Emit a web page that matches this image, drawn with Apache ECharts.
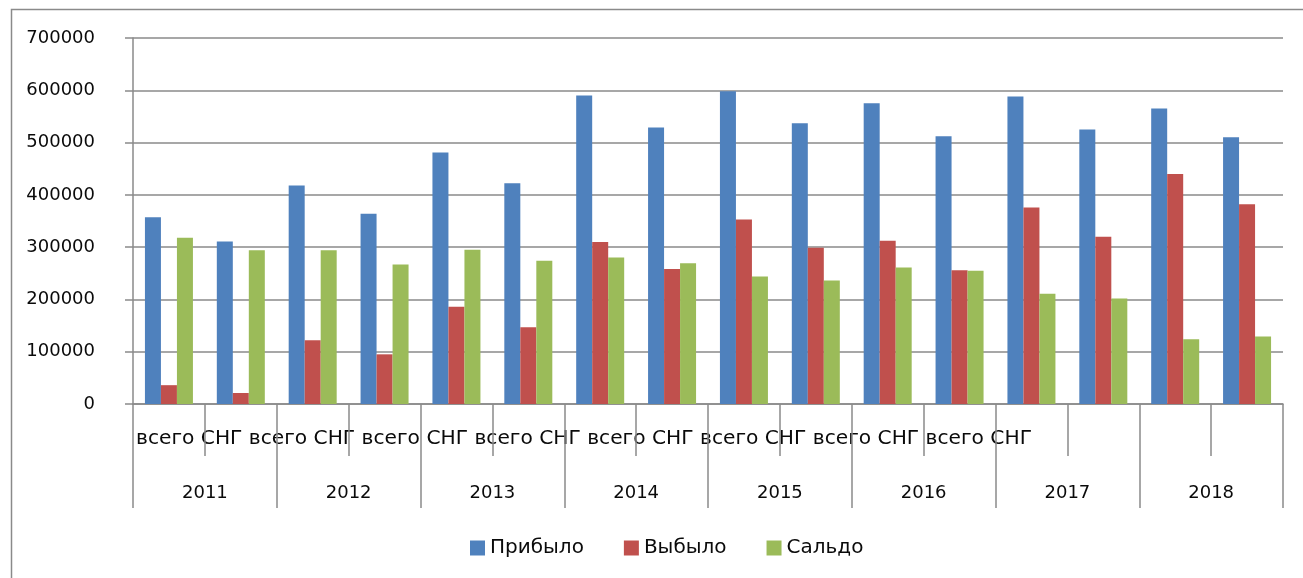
<!DOCTYPE html>
<html>
<head>
<meta charset="utf-8">
<script src="https://cdn.jsdelivr.net/npm/echarts@6/dist/echarts.min.js"></script>
<style>
html,body{margin:0;padding:0;background:#fff;}
#c{width:1303px;height:578px;}
</style>
</head>
<body>
<div id="c"></div>
<script>
const years = ['2011','2012','2013','2014','2015','2016','2017','2018'];
const subCats = ['всего','СНГ','всего','СНГ','всего','СНГ','всего','СНГ','всего','СНГ','всего','СНГ','всего','СНГ','всего','СНГ'];
const seriesNames = ['Прибыло','Выбыло','Сальдо'];
const pribylo = [357000,311000,418000,364000,481000,422000,590000,529000,598000,537000,575000,512000,588000,525000,565000,510000];
const vybylo  = [36000,21000,122000,95000,186000,147000,310000,258000,353000,299000,312000,256000,376000,320000,440000,382000];
const saldo   = [318000,294000,294000,267000,295000,274000,280000,269000,244000,236000,261000,255000,211000,202000,124000,129000];
const yTicks = [0,100000,200000,300000,400000,500000,600000,700000];

const FONT = 'DejaVu Sans';
const AX = '#8a8a8a';
const TXT = '#0a0a0a';
const chart = echarts.init(document.getElementById('c'));
const catIdx = subCats.map((_, i) => String(i));

chart.setOption({
  animation: false,
  backgroundColor: '#fff',
  textStyle: {fontFamily: FONT},
  color: ['#4F81BD','#C0504D','#9BBB59'],
  grid: {left: 133, right: 20, top: 38, bottom: 174, containLabel: false},
  legend: {
    data: seriesNames,
    left: 465, top: 533,
    itemWidth: 15, itemHeight: 15, itemGap: 40,
    icon: 'rect',
    textStyle: {fontFamily: FONT, fontSize: 20, color: TXT}
  },
  xAxis: [
    {
      type: 'category', data: catIdx, position: 'bottom',
      axisLine: {show: true, lineStyle: {color: AX, width: 1.5}},
      axisTick: {show: true, interval: 0, length: 52, lineStyle: {color: AX, width: 1.5}},
      axisLabel: {show: false},
      splitLine: {show: false}
    },
    {
      type: 'category', data: years, position: 'bottom',
      axisLine: {show: false},
      axisTick: {show: true, interval: 0, length: 104, lineStyle: {color: AX, width: 1.5}},
      axisLabel: {show: true, interval: 0, margin: 80, fontFamily: FONT, fontSize: 18, color: TXT},
      splitLine: {show: false}
    }
  ],
  yAxis: {
    type: 'value', min: yTicks[0], max: yTicks[yTicks.length-1], interval: 100000,
    axisLine: {show: true, lineStyle: {color: AX, width: 1.5}},
    axisTick: {show: true, inside: false, length: 8, lineStyle: {color: AX, width: 1.5}},
    axisLabel: {margin: 38, fontFamily: FONT, fontSize: 18, color: TXT, formatter: v => String(v)},
    splitLine: {show: true, lineStyle: {color: AX, width: 1.5}}
  },
  series: [
    {name: seriesNames[0], type: 'bar', data: pribylo, barWidth: 16, barGap: '0%', xAxisIndex: 0},
    {name: seriesNames[1], type: 'bar', data: vybylo, barWidth: 16, barGap: '0%', xAxisIndex: 0},
    {name: seriesNames[2], type: 'bar', data: saldo, barWidth: 16, barGap: '0%', xAxisIndex: 0}
  ],
  graphic: [
    {type: 'rect', left: 9, top: 7, z: -1, silent: true,
     shape: {width: 1400, height: 700},
     style: {fill: 'none', stroke: AX, lineWidth: 1.5}},
    {type: 'text', left: 136, top: 429, silent: true,
     style: {text: subCats.join(' '), fontFamily: FONT, fontSize: 20.2, fill: TXT}}
  ]
});
</script>
</body>
</html>
